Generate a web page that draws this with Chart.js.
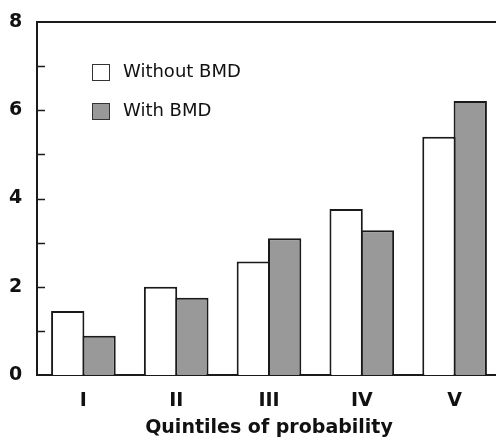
<!DOCTYPE html>
<html>
<head>
<meta charset="utf-8">
<script src="https://cdn.jsdelivr.net/npm/chart.js@4.4.0/dist/chart.umd.min.js"></script>
<style>
  html, body { margin: 0; padding: 0; background: #fff; overflow: hidden; }
  #wrap { width: 501px; height: 439px; }
</style>
</head>
<body>
<div id="wrap"><canvas id="chart" width="501" height="439"></canvas></div>
<script>
// quintile categories and the two series
const categories = ["I", "II", "III", "IV", "V"];
const withoutBMD = [1.45, 2.0, 2.57, 3.76, 5.40];
const withBMD = [0.89, 1.75, 3.10, 3.28, 6.21];
const yMin = 0;
const yMax = 8;
const yLabelStep = 2;

const axisColor = "#1a1a1a";
const fontFamily = "'DejaVu Sans', sans-serif";

// top frame line, inward ticks and the in-plot legend
const framePlugin = {
  id: "frame",
  afterDraw(chart) {
    const ctx = chart.ctx;
    const area = chart.chartArea;
    const y = chart.scales.y;
    ctx.save();
    ctx.strokeStyle = axisColor;
    ctx.lineWidth = 2;
    ctx.beginPath();
    ctx.moveTo(area.left - 1, area.top);
    ctx.lineTo(area.right, area.top);
    ctx.stroke();

    ctx.lineWidth = 1.5;
    y.ticks.forEach(t => {
      if (t.value <= yMin || t.value >= yMax) return;
      const py = Math.round(y.getPixelForValue(t.value)) + 0.5;
      ctx.beginPath();
      ctx.moveTo(area.left, py);
      ctx.lineTo(area.left + 8, py);
      ctx.stroke();
    });

    // legend
    ctx.font = "18px " + fontFamily;
    ctx.textBaseline = "middle";
    ctx.textAlign = "left";
    chart.data.datasets.forEach((ds, i) => {
      const bx = 92, by = 64 + i * 39;
      ctx.fillStyle = ds.backgroundColor;
      ctx.fillRect(bx, by, 17, 16);
      ctx.lineWidth = 1;
      ctx.strokeStyle = "#333";
      ctx.strokeRect(bx + 0.5, by + 0.5, 17, 16);
      ctx.fillStyle = "#111";
      ctx.fillText(ds.label, 123, by + 8);
    });
    ctx.restore();
  }
};

new Chart(document.getElementById("chart").getContext("2d"), {
  type: "bar",
  data: {
    labels: categories,
    datasets: [
      {
        label: "Without BMD",
        data: withoutBMD,
        backgroundColor: "#ffffff",
        borderColor: axisColor,
        borderWidth: 2
      },
      {
        label: "With BMD",
        data: withBMD,
        backgroundColor: "#999999",
        borderColor: axisColor,
        borderWidth: 2
      }
    ]
  },
  options: {
    responsive: false,
    devicePixelRatio: 1,
    animation: { duration: 0 },
    layout: { padding: { top: 22, left: 9, right: 0, bottom: 0 } },
    datasets: {
      bar: { categoryPercentage: 0.675, barPercentage: 1.064, inflateAmount: 0 }
    },
    plugins: {
      legend: { display: false },
      tooltip: { enabled: false }
    },
    scales: {
      x: {
        grid: { display: false, drawTicks: false, tickLength: 0 },
        border: { display: true, color: axisColor, width: 2 },
        ticks: {
          color: "#111",
          padding: 15,
          font: { family: fontFamily, size: 19, weight: "bold" }
        },
        title: {
          display: true,
          text: "Quintiles of probability",
          color: "#111",
          padding: { top: 0, bottom: 0 },
          font: { family: fontFamily, size: 19, weight: "bold" }
        },
        afterFit(scale) { scale.height = 64; }
      },
      y: {
        min: yMin,
        max: yMax,
        grid: { display: false, drawTicks: false, tickLength: 0 },
        border: { display: true, color: axisColor, width: 2 },
        ticks: {
          stepSize: 1,
          color: "#111",
          padding: 0,
          crossAlign: "far",
          font: { family: fontFamily, size: 19, weight: "bold" },
          callback: v => (v % yLabelStep === 0 ? v : "")
        },
        afterFit(scale) { scale.width = 28; }
      }
    }
  },
  plugins: [framePlugin]
});
</script>
</body>
</html>
